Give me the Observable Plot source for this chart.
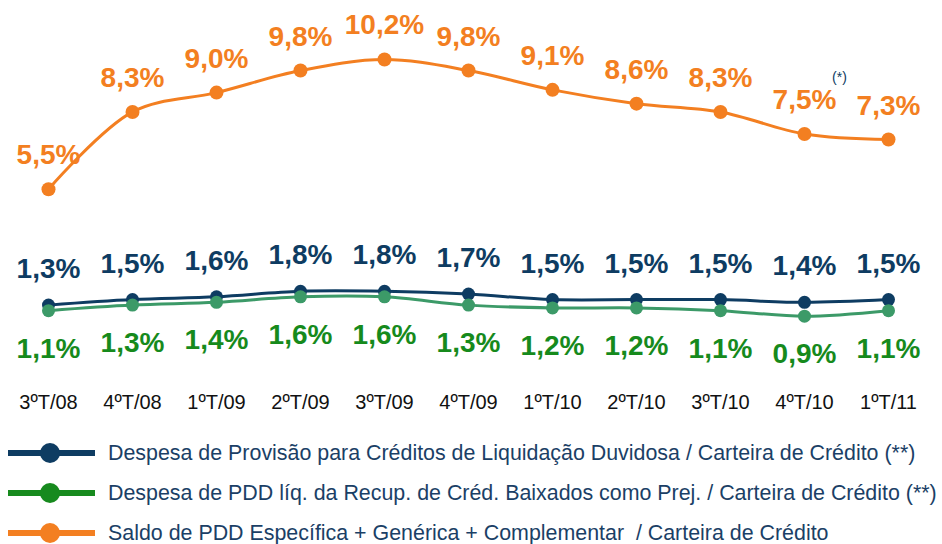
<!DOCTYPE html>
<html>
<head>
<meta charset="utf-8">
<script src="https://cdn.jsdelivr.net/npm/d3@7"></script>
<script src="https://cdn.jsdelivr.net/npm/@observablehq/plot@0.6"></script>
<style>
  html, body { margin: 0; padding: 0; background: #fff; }
  body { width: 942px; height: 544px; overflow: hidden; font-family: "Liberation Sans", Arial, sans-serif; }
  #legend { position: absolute; left: 0; top: 433px; width: 942px; }
  .row { position: relative; height: 40px; }
  .row svg { position: absolute; left: 8px; top: 8px; }
  .row span { position: absolute; left: 108px; top: 0; line-height: 40px; font-size: 21.4px; color: #1B3F66; white-space: pre; }
</style>
</head>
<body>
<div id="chart"></div>
<div id="legend"></div>
<script>
const quarters = ["3ºT/08", "4ºT/08", "1ºT/09", "2ºT/09", "3ºT/09", "4ºT/09", "1ºT/10", "2ºT/10", "3ºT/10", "4ºT/10", "1ºT/11"];
const saldo = [5.5, 8.3, 9.0, 9.8, 10.2, 9.8, 9.1, 8.6, 8.3, 7.5, 7.3];
const despesa = [1.3, 1.5, 1.6, 1.8, 1.8, 1.7, 1.5, 1.5, 1.5, 1.4, 1.5];
const liquida = [1.1, 1.3, 1.4, 1.6, 1.6, 1.3, 1.2, 1.2, 1.1, 0.9, 1.1];
const seriesNames = [
  "Despesa de Provisão para Créditos de Liquidação Duvidosa / Carteira de Crédito (**)",
  "Despesa de PDD líq. da Recup. de Créd. Baixados como Prej. / Carteira de Crédito (**)",
  "Saldo de PDD Específica + Genérica + Complementar  / Carteira de Crédito"
];
const noteLabel = "(*)";
const noteQuarter = "4ºT/10";

const orange = "#F37F21", navy = "#0E3C62", greenLine = "#3C9A68", greenText = "#168A1C", legendGreen = "#178A1E";

const mk = (vals) => quarters.map((q, i) => ({q, v: vals[i]}));
const sData = mk(saldo), dData = mk(despesa), lData = mk(liquida);
const fmt = d => d.v.toFixed(1).replace(".", ",") + "%";

const chart = Plot.plot({
  width: 942,
  height: 430,
  marginTop: 59,
  marginBottom: 89.5,
  marginLeft: 46,
  marginRight: 52,
  x: {type: "point", domain: quarters, padding: 0},
  y: {domain: [0, 10.2], axis: null},
  style: {fontFamily: "'Liberation Sans', Arial, sans-serif", background: "#fff", overflow: "visible"},
  marks: [
    Plot.axisX({tickSize: 0, tickPadding: 54, fontSize: 20, color: "#111", label: null}),
    Plot.line(sData, {x: "q", y: "v", stroke: orange, strokeWidth: 3, curve: "catmull-rom"}),
    Plot.dot(sData, {x: "q", y: "v", r: 7, fill: orange}),
    Plot.text(sData, {x: "q", y: "v", text: fmt, dy: -34, fill: orange, fontSize: 28, fontWeight: "bold"}),
    Plot.line(dData, {x: "q", y: "v", stroke: navy, strokeWidth: 3, curve: "catmull-rom"}),
    Plot.dot(dData, {x: "q", y: "v", r: 6.5, fill: navy}),
    Plot.text(dData, {x: "q", y: "v", text: fmt, dy: -36, fill: navy, fontSize: 28, fontWeight: "bold"}),
    Plot.line(lData, {x: "q", y: "v", stroke: greenLine, strokeWidth: 3, curve: "catmull-rom"}),
    Plot.dot(lData, {x: "q", y: "v", r: 6.5, fill: greenLine}),
    Plot.text(lData, {x: "q", y: "v", text: fmt, dy: 38, fill: greenText, fontSize: 28, fontWeight: "bold"}),
    Plot.text([{q: noteQuarter, v: saldo[quarters.indexOf(noteQuarter)]}], {x: "q", y: "v", text: () => noteLabel, dx: 35, dy: -56, fill: navy, fontSize: 14})
  ]
});
document.getElementById("chart").appendChild(chart);

const legendColors = [navy, legendGreen, orange];
const legend = document.getElementById("legend");
seriesNames.forEach((name, i) => {
  const row = document.createElement("div");
  row.className = "row";
  row.innerHTML = `<svg width="90" height="24"><line x1="0" x2="87" y1="12" y2="12" stroke="${legendColors[i]}" stroke-width="6"/><circle cx="42" cy="12" r="10" fill="${legendColors[i]}"/></svg><span></span>`;
  row.querySelector("span").textContent = name;
  legend.appendChild(row);
});
</script>
</body>
</html>
